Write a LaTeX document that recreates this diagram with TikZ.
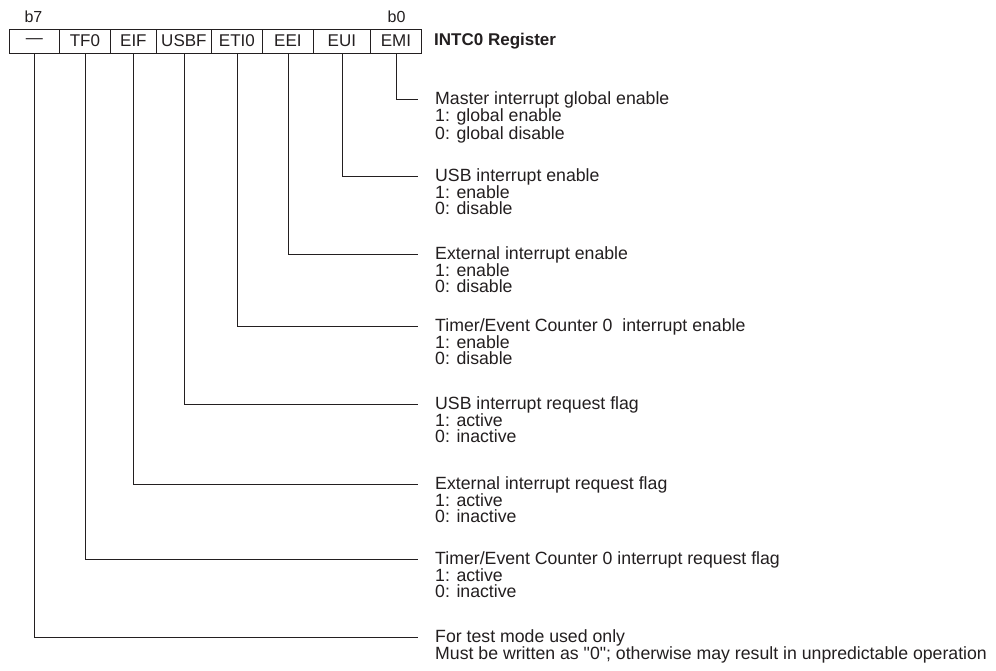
\documentclass[tikz,border=0pt]{standalone}
\usepackage{fontspec}
\setmainfont{Liberation Sans}
% same face without TeX ligature mapping, for straight quotes
\newfontfamily\plainsans{Liberation Sans}
\definecolor{ink}{RGB}{35,31,32}
\begin{document}
\begin{tikzpicture}[x=1pt,y=-1pt,
  every node/.style={text=ink},
  cell/.style={draw=ink, line width=0.8pt, inner sep=0pt, minimum height=24pt,
    anchor=west, font=\fontsize{17}{17}\selectfont},
  bitlbl/.style={inner sep=0pt, font=\fontsize{16}{16}\selectfont},
  desc/.style={anchor=north west, inner sep=0pt, align=left,
    font=\fontsize{17.7}{16}\selectfont},
  wire/.style={draw=ink, line width=0.8pt}]
\useasboundingbox[fill=white] (0,0) rectangle (996,670);

% bit positions
\node[bitlbl] (b7) at (33.5,16.5) {b7};
\node[bitlbl] (b0) at (396.5,16.5) {b0};

% register cells
\node[cell, minimum width=50pt] (c7) at (9,41)   {\textemdash};
\node[cell, minimum width=51pt] (c6) at (59,41)  {TF0};
\node[cell, minimum width=46pt] (c5) at (110,41) {EIF};
\node[cell, minimum width=55pt] (c4) at (156,41) {USBF};
\node[cell, minimum width=51pt] (c3) at (211,41) {ETI0};
\node[cell, minimum width=51pt] (c2) at (262,41) {EEI};
\node[cell, minimum width=57pt] (c1) at (313,41) {EUI};
\node[cell, minimum width=51pt] (c0) at (370,41) {EMI};
\node[anchor=west, inner sep=0pt, font=\fontsize{17}{17}\selectfont\bfseries] (reg) at (434,41.5) {INTC0 Register};

% line ends beside the descriptions
\coordinate (e0) at (418,99);
\coordinate (e1) at (418,176);
\coordinate (e2) at (418,254);
\coordinate (e3) at (418,326);
\coordinate (e4) at (418,404);
\coordinate (e5) at (418,484);
\coordinate (e6) at (418,559);
\coordinate (e7) at (418,637);

% descriptions
\node[desc] (d0) at (435,91.1)  {Master interrupt global enable\\1: global enable\\0: global disable};
\node[desc] (d1) at (435,168.1) {USB interrupt enable\\1: enable\\0: disable};
\node[desc] (d2) at (435,246.1) {External interrupt enable\\1: enable\\0: disable};
\node[desc] (d3) at (435,318.1) {Timer/Event Counter 0\ \ interrupt enable\\1: enable\\0: disable};
\node[desc] (d4) at (435,396.1) {USB interrupt request flag\\1: active\\0: inactive};
\node[desc] (d5) at (435,476.1) {External interrupt request flag\\1: active\\0: inactive};
\node[desc] (d6) at (435,551.1) {Timer/Event Counter 0 interrupt request flag\\1: active\\0: inactive};
\node[desc] (d7) at (435,629.1) {For test mode used only\\Must be written as {\plainsans"0"}; otherwise may result in unpredictable operation};

% leader lines
\foreach \i in {0,...,7}
  \draw[wire] (c\i.south) |- (e\i);
\end{tikzpicture}
\end{document}
